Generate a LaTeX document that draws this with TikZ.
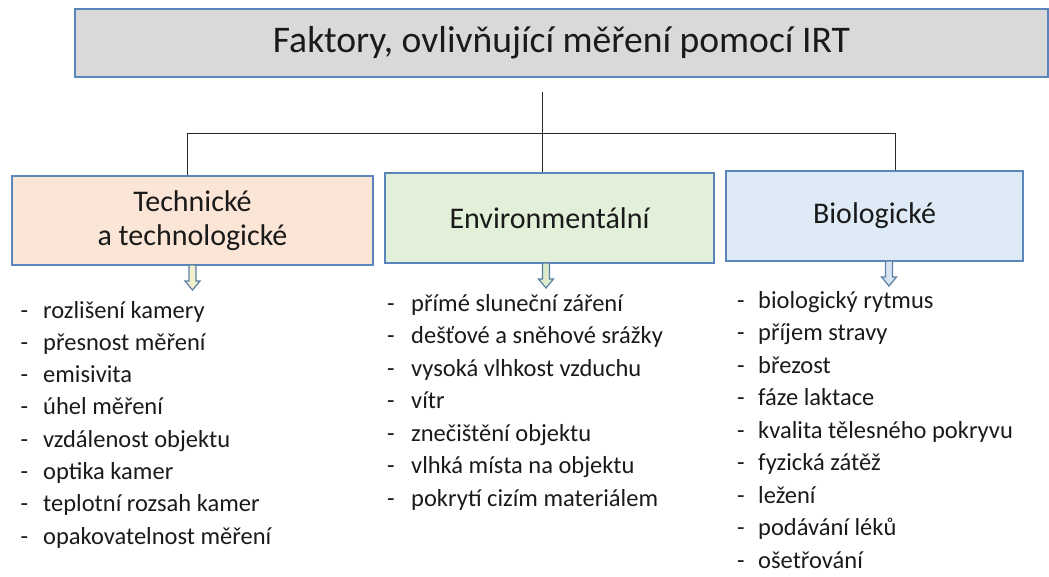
\documentclass[tikz,border=0pt]{standalone}
\usepackage{fontspec}
\setmainfont{Carlito}
\usetikzlibrary{calc}
\definecolor{bordblue}{HTML}{5A86BC}
\definecolor{titlefill}{HTML}{D9D9D9}
\definecolor{techfill}{HTML}{FBE5D6}
\definecolor{envfill}{HTML}{E2F0D9}
\definecolor{biofill}{HTML}{DEEBF7}
\definecolor{arrbord}{HTML}{5B7FA6}
\definecolor{arrtech}{HTML}{F0F0CC}
\definecolor{arrenv}{HTML}{DCEBCB}
\definecolor{arrbio}{HTML}{D6E4F2}
\definecolor{txt}{HTML}{1A1A1A}
\tikzset{
  catbox/.style={draw=bordblue, line width=2pt, inner sep=0pt, align=center,
    font=\fontsize{30}{33}\selectfont, text=txt},
  titlebox/.style={draw=bordblue, line width=2.5pt, fill=titlefill, inner sep=0pt,
    minimum width=973pt, minimum height=68pt, font=\fontsize{37.6}{40}\selectfont, text=txt},
  item/.style={anchor=base west, inner sep=0pt, font=\fontsize{24.5}{29}\selectfont, text=txt},
  link/.style={draw=black!85, line width=1pt},
  harrow/.style={draw=arrbord, line width=1.2pt, line join=miter},
}
\newcommand\hollowdown[2]{%
  \draw[harrow, fill=#2] ($(#1)+(-3.5,0)$) -- ++(0,16) -- ++(-4,0) -- ++(7.5,9)
    -- ++(7.5,-9) -- ++(-4,0) -- ++(0,-16) -- cycle;}
\begin{document}
\begin{tikzpicture}[x=1pt,y=-1pt]
\useasboundingbox (0,0) rectangle (1049,576);
% title
\node[titlebox] (title) at (561.5,43) {Faktory, ovlivňující měření pomocí IRT};
% category boxes
\node[catbox, fill=techfill, minimum width=361pt, minimum height=89pt] (tech) at (192.5,220.5)
  {Technické\\[1pt]a technologické};
\node[catbox, fill=envfill, minimum width=329pt, minimum height=90pt] (env) at (549.5,218)
  {Environmentální};
\node[catbox, fill=biofill, minimum width=297pt, minimum height=90pt] (bio) at (874.5,216)
  {Biologické};
% connectors
\coordinate (top) at (542,92);
\coordinate (hl) at (187,133);
\coordinate (hr) at (895,133);
\draw[link] (top) -- (top |- env.north);
\draw[link] (hl |- tech.north) -- (hl) -- (hr) -- (hr |- bio.north);
% arrows
\coordinate (ta) at (192.5,265);
\coordinate (ea) at (546,263);
\coordinate (ba) at (889,261);
\hollowdown{ta}{arrtech}
\hollowdown{ea}{arrenv}
\hollowdown{ba}{arrbio}
% lists
\foreach \t [count=\i] in {rozlišení kamery, přesnost měření, emisivita, úhel měření,
  vzdálenost objektu, optika kamer, teplotní rozsah kamer, opakovatelnost měření}
  \node[item] (t\i) at (20.5,{318+32.3*(\i-1)}) {\makebox[22.5pt][l]{-}\t};
\foreach \t [count=\i] in {přímé sluneční záření, dešťové a sněhové srážky,
  vysoká vlhkost vzduchu, vítr, znečištění objektu, vlhká místa na objektu,
  pokrytí cizím materiálem}
  \node[item] (e\i) at (387,{311+32.5*(\i-1)}) {\makebox[24pt][l]{-}\t};
\foreach \t [count=\i] in {biologický rytmus, příjem stravy, březost, fáze laktace,
  kvalita tělesného pokryvu, fyzická zátěž, ležení, podávání léků, ošetřování}
  \node[item] (b\i) at (737,{308+32.5*(\i-1)}) {\makebox[21pt][l]{-}\t};
\end{tikzpicture}
\end{document}
